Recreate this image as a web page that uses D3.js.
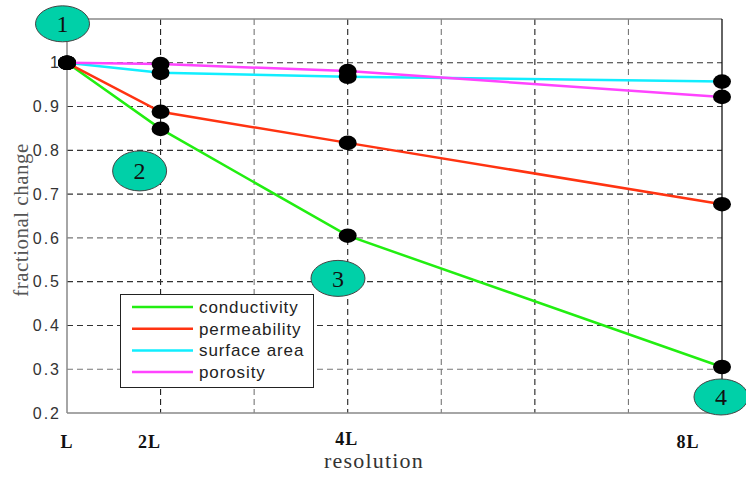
<!DOCTYPE html>
<html>
<head>
<meta charset="utf-8">
<script src="https://cdn.jsdelivr.net/npm/d3@7/dist/d3.min.js"></script>
<style>
  html, body { margin: 0; padding: 0; background: #fff; }
  svg { display: block; }
</style>
</head>
<body>
<div id="chart"></div>
<script>
// Resolution multiples (L, 2L, 4L, 8L) and their axis labels
const resolution = [1, 2, 4, 8];
const resolutionLabels = ["L", "2L", "4L", "8L"];

// Fractional change of each property relative to resolution L
const conductivity = [1.0, 0.849, 0.605, 0.305];
const permeability = [1.0, 0.888, 0.817, 0.677];
const surfaceArea  = [1.0, 0.977, 0.968, 0.957];
const porosity     = [1.0, 0.997, 0.981, 0.922];

const seriesNames = ["conductivity", "permeability", "surface area", "porosity"];
const yTicks = [0.2, 0.3, 0.4, 0.5, 0.6, 0.7, 0.8, 0.9, 1];

// Numbered callouts, anchored in data units
const calloutText = ["1", "2", "3", "4"];
const calloutX = [0.952, 1.776, 3.896, 7.989];
const calloutY = [1.089, 0.753, 0.5075, 0.2366];

const W = 746, H = 478;
const plot = { left: 67, right: 722, top: 19, bottom: 413 };

const svg = d3.select("#chart").append("svg")
  .attr("width", W).attr("height", H)
  .style("font-family", "'Liberation Sans', Arial, sans-serif");

const x = d3.scaleLinear().domain([1, 8]).range([plot.left, plot.right]);
const y = d3.scaleLinear().domain([0.2, 1.1]).range([plot.bottom, plot.top]);

// dashed grid
const gx = d3.range(2, 8);
svg.append("g").selectAll("line").data(gx).join("line")
  .attr("x1", d => x(d)).attr("x2", d => x(d))
  .attr("y1", plot.top).attr("y2", plot.bottom)
  .attr("stroke", (d, i) => i % 2 === 0 ? "#222" : "#777")
  .attr("stroke-width", 1.1)
  .attr("stroke-dasharray", "6,4");
svg.append("g").selectAll("line").data(d3.range(0.3, 1.05, 0.1)).join("line")
  .attr("x1", plot.left).attr("x2", plot.right)
  .attr("y1", d => y(d)).attr("y2", d => y(d))
  .attr("stroke", (d, i) => (i === 0 || i === 3) ? "#777" : "#333")
  .attr("stroke-width", 1.1)
  .attr("stroke-dasharray", "6,4");

// frame
svg.append("line").attr("x1", plot.left).attr("x2", plot.right).attr("y1", plot.top).attr("y2", plot.top)
  .attr("stroke", "#888").attr("stroke-width", 1.5);
svg.append("line").attr("x1", plot.left).attr("x2", plot.right).attr("y1", plot.bottom).attr("y2", plot.bottom)
  .attr("stroke", "#888").attr("stroke-width", 1.5);
svg.append("line").attr("x1", plot.left).attr("x2", plot.left).attr("y1", plot.top).attr("y2", plot.bottom)
  .attr("stroke", "#888").attr("stroke-width", 1.5);
svg.append("line").attr("x1", plot.right).attr("x2", plot.right).attr("y1", plot.top).attr("y2", plot.bottom)
  .attr("stroke", "#111").attr("stroke-width", 1.3);

// y axis ticks and labels
const yAxis = d3.axisLeft(y).tickValues(yTicks).tickSize(0).tickPadding(6)
  .tickFormat(d => d === 1 ? "1" : d3.format(".1f")(d));
const ya = svg.append("g").attr("transform", `translate(${plot.left},0)`).call(yAxis);
ya.select(".domain").remove();
ya.selectAll("text")
  .attr("font-size", 16).attr("fill", "#333")
  .attr("letter-spacing", "2px")
  .style("font-family", "'Liberation Sans', Arial, sans-serif");

// x axis labels
const nudge = [0, -11, -1, -34];
svg.append("g").selectAll("text").data(resolution).join("text")
  .attr("x", (d, i) => x(d) + nudge[i])
  .attr("y", (d, i) => i === 2 ? 445 : 448)
  .attr("text-anchor", "middle")
  .attr("font-family", "'Liberation Serif', 'Times New Roman', serif")
  .attr("font-weight", "bold")
  .attr("font-size", 18)
  .attr("letter-spacing", "1px")
  .attr("fill", "#111")
  .text((d, i) => resolutionLabels[i]);

svg.append("text")
  .attr("x", 374).attr("y", 468)
  .attr("text-anchor", "middle")
  .attr("font-family", "'Liberation Serif', 'Times New Roman', serif")
  .attr("font-size", 22).attr("letter-spacing", "1.2px")
  .attr("fill", "#333")
  .text("resolution");

svg.append("text")
  .attr("transform", "translate(28,220) rotate(-90)")
  .attr("text-anchor", "middle")
  .attr("font-family", "'Liberation Serif', 'Times New Roman', serif")
  .attr("font-size", 21).attr("letter-spacing", "0.5px")
  .attr("fill", "#555")
  .text("fractional change");

// series
const series = [
  { name: seriesNames[0], values: conductivity, color: "#22ee11" },
  { name: seriesNames[1], values: permeability, color: "#ff3311" },
  { name: seriesNames[2], values: surfaceArea,  color: "#11eeff" },
  { name: seriesNames[3], values: porosity,     color: "#ff44ff" }
];

const line = d3.line().x(d => x(d[0])).y(d => y(d[1]));
const lines = svg.append("g");
series.forEach(s => {
  lines.append("path")
    .datum(resolution.map((r, i) => [r, s.values[i]]))
    .attr("d", line)
    .attr("fill", "none")
    .attr("stroke", s.color)
    .attr("stroke-width", 2.5);
});

const dots = svg.append("g");
series.forEach(s => {
  dots.append("g").selectAll("ellipse").data(resolution.map((r, i) => [r, s.values[i]])).join("ellipse")
    .attr("cx", d => x(d[0])).attr("cy", d => y(d[1]))
    .attr("rx", 9).attr("ry", 7.3)
    .attr("fill", "#000");
});

// legend
const lg = svg.append("g");
lg.append("rect").attr("x", 120.5).attr("y", 294.5).attr("width", 193).attr("height", 93)
  .attr("fill", "#fff").attr("stroke", "#222").attr("stroke-width", 1);
series.forEach((s, i) => {
  const cy = 307 + i * 21.7;
  lg.append("line").attr("x1", 132).attr("x2", 193).attr("y1", cy).attr("y2", cy)
    .attr("stroke", s.color).attr("stroke-width", 2.5);
  lg.append("text").attr("x", 199).attr("y", cy).attr("dy", "0.35em")
    .attr("font-size", 17).attr("letter-spacing", "0.9px").attr("fill", "#222")
    .text(s.name);
});

// numbered callouts
const co = svg.append("g");
calloutText.forEach((t, i) => {
  const cx = x(calloutX[i]), cy = y(calloutY[i]);
  co.append("ellipse").attr("cx", cx).attr("cy", cy)
    .attr("rx", 27).attr("ry", i === 1 ? 20 : 18)
    .attr("fill", "#00d0a8").attr("stroke", "#444").attr("stroke-width", 1);
  co.append("text").attr("x", cx).attr("y", cy).attr("dy", "0.35em")
    .attr("text-anchor", "middle")
    .attr("font-family", "'Liberation Serif', 'Times New Roman', serif")
    .attr("font-size", 24).attr("fill", "#111")
    .text(t);
});
</script>
</body>
</html>
